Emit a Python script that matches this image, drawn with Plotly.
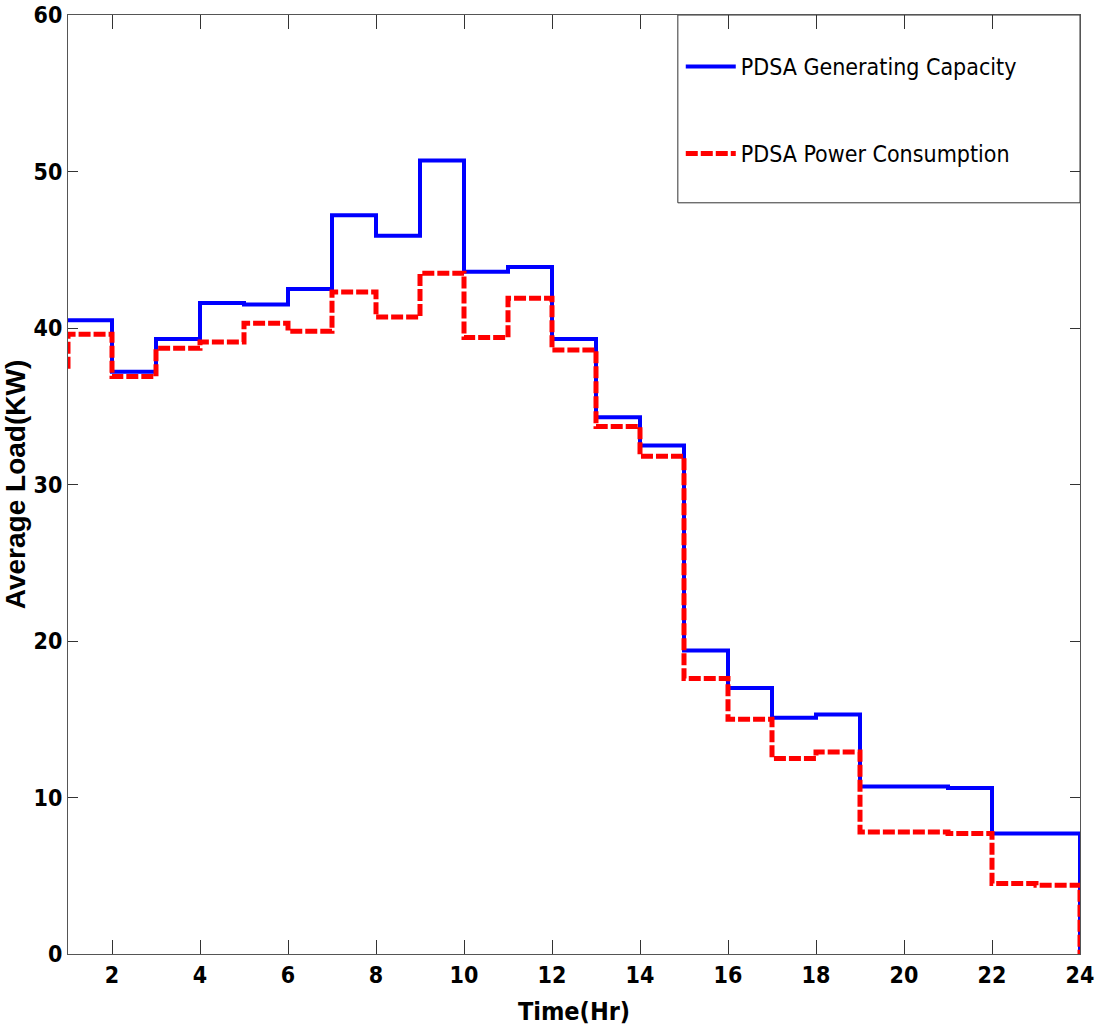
import plotly.graph_objects as go

# ---- data ----
hours = list(range(1, 25))
gen_capacity = [40.5, 37.2, 39.3, 41.6, 41.5, 42.5, 47.2, 45.9, 50.7, 43.6, 43.9, 39.3,
                34.3, 32.5, 19.4, 17.0, 15.1, 15.3, 10.7, 10.7, 10.6, 7.7, 7.7, 0.0]
power_consumption = [39.6, 36.9, 38.7, 39.1, 40.3, 39.8, 42.3, 40.7, 43.5, 39.4, 41.9, 38.6,
                     33.7, 31.8, 17.6, 15.0, 12.5, 12.9, 7.8, 7.8, 7.7, 4.5, 4.4, 0.0]
consumption_start = 37.4
x_ticks = list(range(2, 25, 2))
y_ticks = list(range(0, 61, 10))

NARROW = "Liberation Sans Narrow, DejaVu Sans Condensed, sans-serif"

fig = go.Figure()
fig.add_trace(go.Scatter(
    x=hours, y=gen_capacity, mode="lines", line_shape="hv",
    name="PDSA Generating Capacity", legendgroup="g1",
    line=dict(color="#0000FF", width=4),
))
fig.add_trace(go.Scatter(
    x=[hours[0]] + hours, y=[consumption_start] + power_consumption,
    mode="lines", line_shape="hv",
    name="PDSA Power Consumption", legendgroup="g2",
    line=dict(color="#FF0000", width=5, dash="12px,3px"),
))

axis_common = dict(
    showline=True, linecolor="#555555", linewidth=1, mirror="ticks",
    ticks="inside", tickcolor="#333333", tickwidth=1,
    showgrid=False, zeroline=False, ticklabeloverflow="allow", automargin=False,
    tickfont=dict(family=NARROW, size=23, color="black", weight="bold"),
)

fig.update_xaxes(
    range=[1, 24], tickmode="array", tickvals=x_ticks, ticklen=14,
    title=dict(text="Time(Hr)", font=dict(family=NARROW, size=25, color="black", weight="bold"),
               standoff=15),
    **axis_common,
)
fig.update_yaxes(
    range=[0, 60], tickmode="array", tickvals=y_ticks, ticklen=10,
    title=dict(text="Average Load(KW)",
               font=dict(family="Liberation Sans, Arial, sans-serif", size=28, color="black", weight="bold"),
               standoff=10),
    **axis_common,
)

# legend frame
fig.add_shape(type="rect", xref="paper", yref="paper",
              x0=0.6026, x1=1.0, y0=0.80, y1=1.0,
              line=dict(color="#333333", width=1), fillcolor="white", layer="below")

fig.update_layout(
    width=1095, height=1030,
    margin=dict(l=68, r=15, t=15, b=76),
    paper_bgcolor="white", plot_bgcolor="white",
    showlegend=True,
    legend=dict(
        x=0.6055, xanchor="left", y=0.968, yanchor="top",
        bgcolor="rgba(0,0,0,0)", borderwidth=0,
        font=dict(family=NARROW, size=23, color="black"),
        traceorder="grouped", tracegroupgap=54, itemwidth=50,
    ),
)

fig.write_html("out.html")
